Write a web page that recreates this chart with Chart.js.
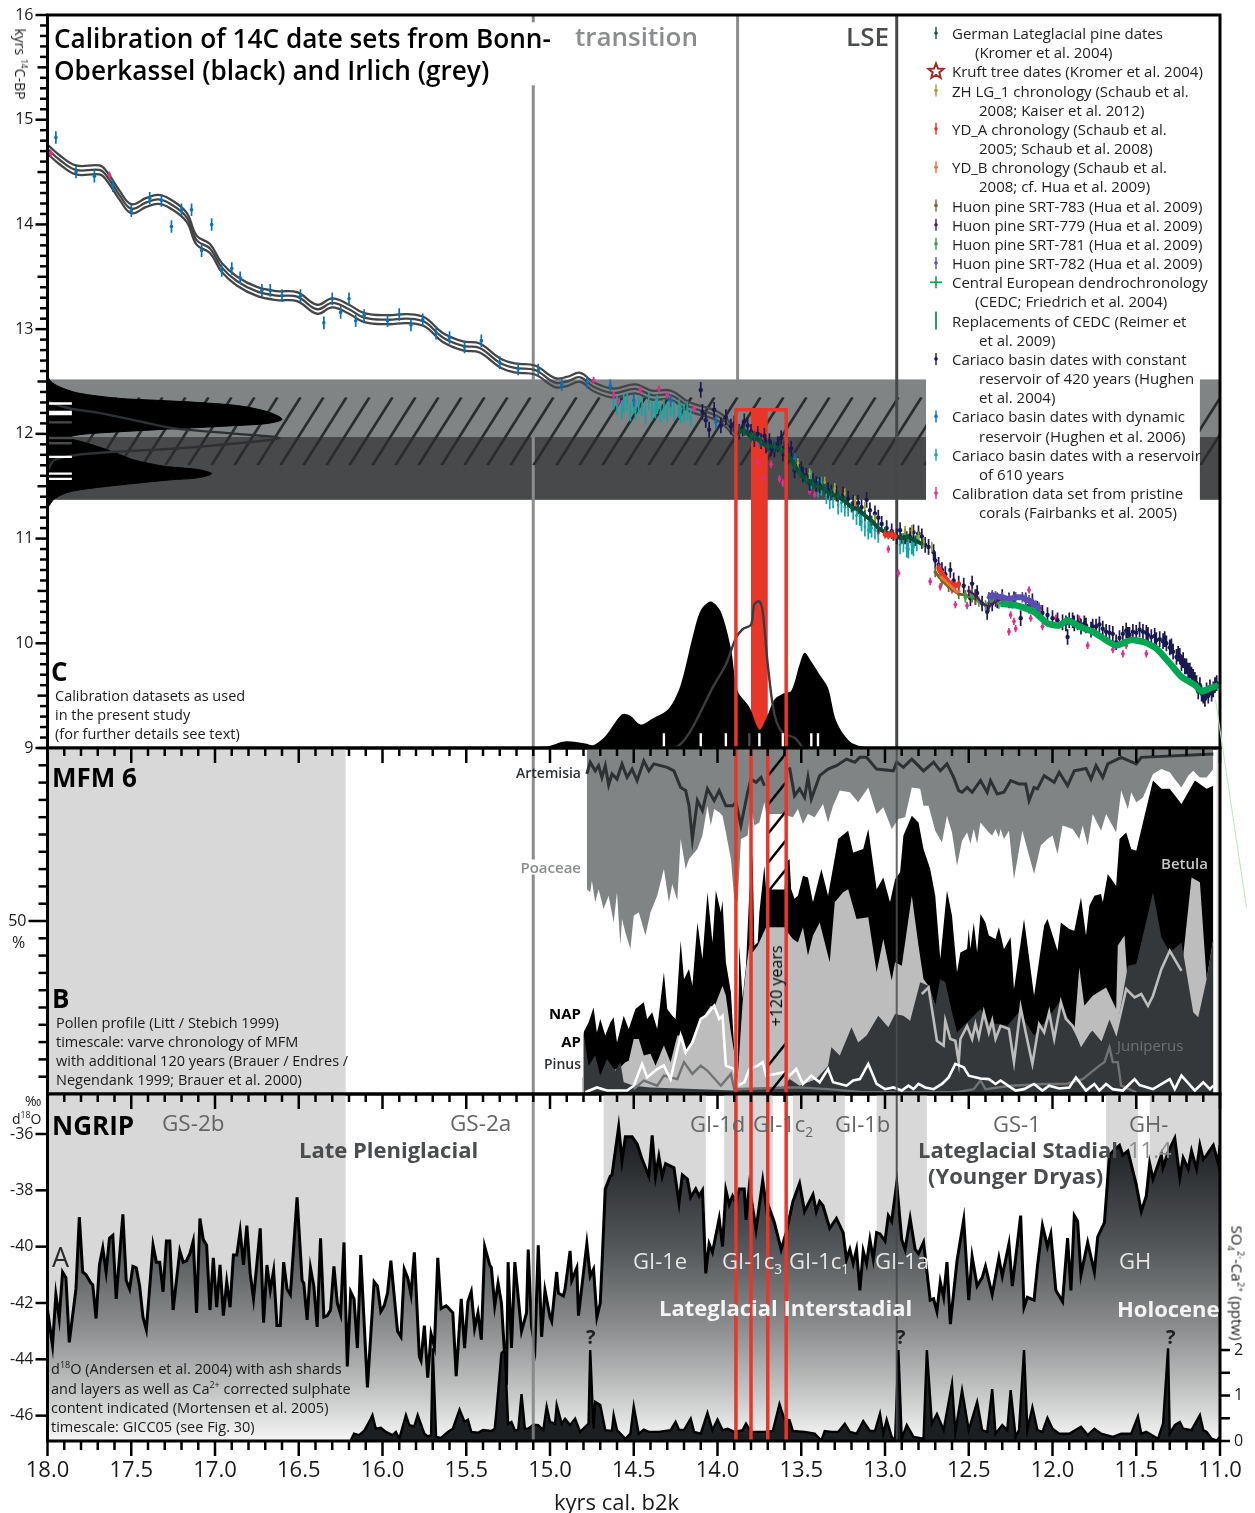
<!DOCTYPE html>
<html>
<head>
<meta charset="utf-8">
<title>Calibration of 14C date sets</title>
<script src="https://cdn.jsdelivr.net/npm/chart.js@4/dist/chart.umd.min.js"></script>
<style>
  html, body { margin: 0; padding: 0; background: #fff; }
  #page { position: relative; width: 1255px; height: 1513px; overflow: hidden; font-family: "Open Sans", "Noto Sans", sans-serif; color: #1a1a1a; }
  canvas { position: absolute; left: 0; }
  .note { position: absolute; white-space: nowrap; line-height: 1; }
  .note sup, .note sub { font-size: 62%; line-height: 0; }
  #strayLine { position: absolute; left: 1215px; top: 700px; width: 1px; height: 210px; background: #b8e6c4; transform-origin: 0 0; transform: rotate(-8.5deg); }
</style>
</head>
<body>
<div id="page">
  <canvas id="calChart" width="1255" height="760" style="top:0"></canvas>
  <canvas id="pollenChart" width="1255" height="362" style="top:740px"></canvas>
  <canvas id="ngripChart" width="1255" height="427" style="top:1086px"></canvas>
  <div id="strayLine"></div>
</div>
<script>
// all series are [age kyrs b2k, value]

// ---- panel C: radiocarbon calibration ----
const calCurve = [[18,14.72],[17.93,14.62],[17.83,14.52],[17.69,14.52],[17.65,14.47],[17.57,14.28],[17.5,14.15],[17.41,14.21],[17.34,14.24],[17.27,14.2],[17.17,14.07],[17.11,13.85],[17.03,13.77],[16.96,13.59],[16.87,13.46],[16.75,13.36],[16.63,13.32],[16.51,13.31],[16.39,13.19],[16.3,13.25],[16.2,13.19],[16.11,13.11],[15.97,13.09],[15.85,13.1],[15.75,13.07],[15.64,12.92],[15.52,12.84],[15.42,12.82],[15.3,12.68],[15.21,12.63],[15.09,12.61],[14.97,12.49],[14.9,12.5],[14.82,12.54],[14.74,12.45],[14.62,12.39],[14.49,12.43],[14.39,12.37],[14.28,12.37],[14.17,12.26],[13.99,12.16],[13.89,12]];
const calOffset = 0.043;

const cariacoDynamic = [[17.95,14.83],[17.83,14.5],[17.72,14.46],[17.61,14.37],[17.5,14.13],[17.39,14.25],[17.32,14.23],[17.2,14.14],[17.14,14.14],[17.26,13.98],[17.02,14],[17.08,13.75],[16.96,13.56],[16.9,13.58],[16.85,13.49],[16.72,13.37],[16.67,13.37],[16.6,13.32],[16.49,13.32],[16.35,13.06],[16.3,13.29],[16.25,13.16],[16.2,13.29],[16.16,13.08],[16.11,13.13],[15.97,13.08],[15.9,13.14],[15.83,13.04],[15.76,13.09],[15.68,12.96],[15.6,12.92],[15.51,12.83],[15.41,12.89],[15.3,12.68],[15.19,12.62],[15.07,12.61],[14.93,12.47],[14.78,12.49],[14.64,12.46],[14.5,12.32],[14.28,12.32],[14.01,12.11],[13.75,11.94],[13.54,11.76]];

const corals = [[17.98,14.68],[17.63,14.47],[14.74,12.51],[14.62,12.37],[14.59,12.31],[14.46,12.42],[14.35,12.43],[14.3,12.37],[14.14,12.24],[13.76,11.73],[13.73,11.58],[13.68,11.71],[13.63,11.57],[13.61,11.53],[13.45,11.45],[13.42,11.42],[13.17,11.32],[13.04,11.07],[12.98,10.9],[12.92,10.67],[12.73,10.59],[12.67,10.54],[12.6,10.51],[12.58,10.37],[12.51,10.36],[12.26,10.11],[12.22,10.14],[12.23,10.21],[12.25,10.27],[12.14,10.51],[12.13,10.24],[12.07,10.33],[12.06,10.16],[11.98,10.24],[11.84,10.23],[11.79,9.98],[11.64,9.94],[11.58,9.9],[11.56,9.98],[11.44,9.9]];

const cariaco610 = [[14.62,12.32],[14.6,12.27],[14.57,12.23],[14.56,12.29],[14.54,12.31],[14.52,12.21],[14.5,12.29],[14.49,12.22],[14.47,12.28],[14.45,12.26],[14.43,12.18],[14.41,12.31],[14.39,12.22],[14.37,12.24],[14.36,12.28],[14.34,12.2],[14.32,12.24],[14.3,12.2],[14.28,12.26],[14.26,12.22],[14.23,12.24],[14.22,12.19],[14.2,12.2],[14.18,12.22],[14.16,12.16],[13.44,11.56],[13.4,11.48],[13.38,11.5],[13.35,11.42],[13.33,11.37],[13.31,11.38],[13.28,11.32],[13.26,11.34],[13.24,11.3],[13.22,11.3],[13.19,11.27],[13.17,11.22],[13.15,11.21],[13.14,11.16],[13.12,11.11],[13.1,11.08],[13.09,11.14],[13.08,11.1],[13.06,11.08],[13.04,11.05],[12.91,10.94],[12.89,10.96],[12.87,10.91],[12.86,10.9],[12.84,10.94],[12.83,10.92],[12.81,10.97]];

const cariaco420 = [[14.1,12.42],[14.09,12.21],[14.07,12.13],[14.05,12.04],[14.02,12.23],[13.98,12.08],[13.95,12.16],[13.92,12.07],[13.9,12.1],[13.87,12.02],[13.85,12.05],[13.84,12.12],[13.82,12.08],[13.8,12.02],[13.78,11.95],[13.76,12],[13.74,11.93],[13.72,11.98],[13.71,11.89],[13.69,11.93],[13.68,11.86],[13.66,11.85],[13.64,11.9],[13.62,11.96],[13.61,11.81],[13.6,11.86],[13.58,11.83],[13.56,11.86],[13.54,11.65],[13.52,11.7],[13.5,11.66],[13.49,11.61],[13.47,11.6],[13.45,11.53],[13.43,11.55],[13.41,11.52],[13.39,11.51],[13.36,11.5],[13.34,11.46],[13.32,11.44],[13.29,11.43],[13.25,11.42],[13.22,11.38],[13.19,11.34],[13.16,11.34],[13.14,11.3],[13.11,11.37],[13.09,11.27],[13.06,11.24],[13.04,11.2],[13.02,11.14],[12.99,11.1],[12.96,11.07],[12.93,11.02],[12.91,11.08],[12.88,11.02],[12.85,11.03],[12.83,11.06],[12.8,11.05],[12.78,11.02],[12.76,10.94],[12.74,10.92],[12.71,10.87],[12.7,10.79],[12.68,10.75],[12.66,10.7],[12.64,10.66],[12.61,10.7],[12.59,10.6],[12.56,10.57],[12.53,10.55],[12.48,10.57],[12.49,10.43],[12.46,10.44],[12.45,10.48],[12.42,10.38],[12.39,10.3],[12.36,10.38],[12.33,10.41],[12.3,10.44],[12.26,10.41],[12.23,10.42],[12.19,10.24],[12.16,10.41],[12.14,10.36],[12.12,10.4],[12.09,10.33],[12.06,10.29],[12.03,10.27],[12,10.24],[11.97,10.22],[11.94,10.2],[11.92,10.19],[11.91,10.06],[11.9,10.22],[11.88,10.22],[11.87,10.19],[11.85,10.2],[11.83,10.16],[11.81,10.19],[11.8,10.17],[11.77,10.13],[11.76,10.16],[11.74,10.16],[11.72,10.18],[11.7,10.14],[11.68,10.11],[11.66,10.1],[11.64,10.09],[11.62,10.01],[11.6,10.05],[11.58,10.09],[11.56,10.12],[11.55,10.08],[11.54,10.08],[11.52,10.11],[11.5,10.1],[11.48,10.13],[11.46,10.11],[11.44,10.1],[11.43,10.08],[11.41,10.06],[11.39,10.07],[11.38,10.03],[11.36,10.04],[11.34,10.02],[11.33,10.04],[11.32,10],[11.3,9.96],[11.29,9.97],[11.28,9.92],[11.26,9.87],[11.25,9.9],[11.24,9.88],[11.23,9.81],[11.22,9.84],[11.21,9.78],[11.2,9.78],[11.19,9.74],[11.18,9.74],[11.17,9.7],[11.16,9.68],[11.15,9.65],[11.14,9.62],[11.13,9.54],[11.12,9.6],[11.11,9.52],[11.1,9.5],[11.09,9.47],[11.08,9.55],[11.07,9.5],[11.06,9.58],[11.05,9.52],[11.04,9.56],[11.03,9.6],[11.02,9.62]];

const germanPine = [[13.87,12.03],[13.84,12.03],[13.8,11.97],[13.78,11.98],[13.74,11.92],[13.7,11.88],[13.66,11.88],[13.62,11.85],[13.58,11.8],[13.54,11.7],[13.51,11.63],[13.47,11.56],[13.43,11.52],[13.4,11.5],[13.36,11.47],[13.32,11.42],[13.28,11.4],[13.24,11.36],[13.2,11.3],[13.16,11.28],[13.12,11.22],[13.08,11.17],[13.04,11.1],[13,11.06],[12.95,11.03],[12.9,11],[12.87,11.02],[12.82,10.98],[12.78,10.95]];
const zhLg1 = [[13.52,11.72],[13.45,11.62],[13.36,11.54],[13.3,11.48],[13.24,11.43],[13.18,11.36],[13.12,11.3],[13.06,11.18],[12.88,11.07],[12.84,11.08],[12.8,11.02],[12.77,10.96],[12.72,10.92]];
const ydA = [[13,11.04],[12.98,11.03],[12.96,11.04],[12.94,11.02],[12.68,10.72],[12.66,10.66],[12.64,10.62],[12.62,10.58],[12.6,10.56],[12.58,10.55],[12.56,10.56]];
const ydB = [[12.67,10.64],[12.63,10.58],[12.59,10.52],[12.57,10.49],[12.55,10.5]];
const huon783 = [[12.7,10.68],[12.66,10.6],[12.62,10.54],[12.56,10.47],[12.52,10.46],[12.48,10.44],[12.46,10.42]];
const huon779 = [[12.5,10.5],[12.46,10.46],[12.42,10.38],[12.38,10.35],[12.34,10.4],[12.3,10.42]];
const huon781 = [[12.52,10.44],[12.48,10.47],[12.44,10.4],[12.4,10.36],[12.36,10.42],[12.32,10.38],[12.28,10.4],[12.24,10.38]];
const huon782 = [[12.38,10.44],[12.36,10.46],[12.34,10.45],[12.3,10.44],[12.26,10.42],[12.22,10.44],[12.18,10.44],[12.16,10.42],[12.14,10.41],[12.12,10.38],[12.1,10.36],[12.08,10.34]];
const cedc = [[12.31,10.38],[12.21,10.36],[12.11,10.3],[12.03,10.19],[11.96,10.17],[11.91,10.22],[11.84,10.16],[11.76,10.11],[11.68,10.03],[11.62,9.98],[11.53,10.03],[11.45,10.01],[11.38,9.95],[11.3,9.81],[11.23,9.68],[11.15,9.6],[11.11,9.54],[11.06,9.57],[11.01,9.6]];

// probability curves: [age, density] along the bottom, [density, 14C] along the left
const ageDensityBlack = [[15.2,0],[15.17,0.005],[15.02,0.01],[14.91,0.045],[14.79,0.03],[14.74,0.02],[14.67,0.08],[14.57,0.23],[14.52,0.22],[14.46,0.16],[14.39,0.2],[14.29,0.27],[14.22,0.43],[14.15,0.75],[14.1,0.94],[14.04,1],[13.98,0.93],[13.92,0.68],[13.88,0.39],[13.81,0.28],[13.75,0.125],[13.71,0.2],[13.66,0.33],[13.61,0.37],[13.56,0.39],[13.51,0.57],[13.48,0.65],[13.44,0.59],[13.39,0.5],[13.34,0.41],[13.29,0.18],[13.21,0.045],[13.11,0.005],[12.94,0]];
const ageDensityGrey = [[14.34,0.005],[14.24,0.01],[14.17,0.1],[14.09,0.27],[14.03,0.41],[13.95,0.57],[13.89,0.75],[13.85,0.81],[13.8,0.84],[13.78,0.98],[13.75,1],[13.73,0.93],[13.7,0.57],[13.66,0.23],[13.61,0.1],[13.54,0.07],[13.49,0]];
const c14DensityBlack = [[0,11.29],[0.03,11.38],[0.1,11.45],[0.3,11.51],[0.52,11.56],[0.64,11.58],[0.7,11.62],[0.64,11.66],[0.5,11.69],[0.37,11.75],[0.3,11.81],[0.2,11.89],[0.12,11.94],[0.08,11.96],[0.13,11.99],[0.23,12.01],[0.47,12.04],[0.64,12.06],[0.81,12.08],[0.94,12.1],[1,12.14],[0.94,12.21],[0.81,12.27],[0.64,12.3],[0.47,12.32],[0.3,12.34],[0.13,12.39],[0.05,12.45],[0.01,12.51],[0,12.59]];
const c14DensityGrey = [[0,11.65],[0.03,11.75],[0.13,11.8],[0.3,11.83],[0.55,11.86],[0.81,11.91],[0.99,11.96],[0.81,12],[0.55,12.05],[0.39,12.12],[0.22,12.2],[0.1,12.24],[0.02,12.29],[0,12.32]];
const dateAgesBlack = [14.32,14.1,13.95,13.75,13.61,13.44,13.4];
const dateAgesGrey = [13.81];
const dateC14White = [12.29,12.21,12.19,11.78,11.62,11.57];
const dateC14Grey = [12.11,11.96,11.91];

// ---- panel B: MFM 6 pollen, cumulative percent ----
const poaceaeEdge = [[14.78,59.2],[14.76,58.3],[14.75,61.7],[14.73,55.4],[14.71,59.2],[14.68,53.5],[14.65,57.3],[14.62,49.6],[14.6,58.3],[14.58,42.9],[14.57,50.6],[14.55,46.7],[14.52,41.9],[14.5,51.5],[14.47,52.5],[14.43,45.8],[14.4,52.5],[14.36,57.3],[14.32,65],[14.29,55.4],[14.27,60.7],[14.24,55.9],[14.22,73.7],[14.19,65],[14.17,67.9],[14.12,70.8],[14.09,74.7],[14.06,83.3],[14.04,77.6],[14.02,82.4],[13.99,81.4],[13.97,80.4],[13.95,75.6],[13.92,67.9],[13.9,56.4],[13.88,55.4],[13.86,73.7],[13.82,74.7],[13.8,83.3],[13.78,77.6],[13.75,78.5],[13.72,84.3],[13.71,80.9],[13.6,80.9],[13.58,80.4],[13.55,80],[13.52,82.4],[13.49,78],[13.46,80.9],[13.42,80],[13.37,83.8],[13.34,78.5],[13.31,83.3],[13.27,87.7],[13.21,87.2],[13.16,84.3],[13.1,88.6],[13.05,80.9],[13.01,82.9],[12.96,76.6],[12.92,79.5],[12.88,80],[12.84,88.6],[12.79,88.2],[12.77,83.3],[12.74,83.3],[12.7,76.1],[12.66,72.7],[12.63,80.4],[12.6,75.6],[12.57,66],[12.54,73.2],[12.51,75.6],[12.49,72.3],[12.47,76.6],[12.45,72.3],[12.43,78.5],[12.38,75.6],[12.36,74.7],[12.34,76.6],[12.32,74.2],[12.31,76.6],[12.29,73.7],[12.26,76.1],[12.23,62.1],[12.18,76.1],[12.11,63.6],[12.07,71.8],[12.03,73.7],[12,74.7],[11.97,69.4],[11.94,77.6],[11.88,76.6],[11.84,73.7],[11.82,77.6],[11.79,71.8],[11.76,80.9],[11.71,76.1],[11.68,80.9],[11.62,75.6],[11.59,87.7],[11.55,82.4],[11.53,87.2],[11.5,84.3],[11.46,85.7],[11.4,92.5],[11.35,93.9],[11.3,93],[11.27,91],[11.23,88.6],[11.19,92],[11.16,93.4],[11.12,91.5],[11.08,91.5],[11.04,93.9]];
const napTop = [[14.8,17.8],[14.77,20.7],[14.74,25],[14.72,17.8],[14.7,21.7],[14.67,16.9],[14.64,20.7],[14.62,22.2],[14.6,14.9],[14.56,22.6],[14.53,18.8],[14.49,24.6],[14.44,26.5],[14.42,21.7],[14.39,23.6],[14.36,18.8],[14.32,35.2],[14.3,24.6],[14.27,22.6],[14.25,21.7],[14.22,44.3],[14.2,33.2],[14.17,36.1],[14.15,31.3],[14.12,49.6],[14.09,39],[14.06,58.3],[14.03,43.8],[14.01,58.8],[13.98,52.5],[13.97,55.9],[13.95,38.1],[13.92,29.4],[13.9,13],[13.88,4.3],[13.87,42.9],[13.85,27.5],[13.83,37.1],[13.81,58.3],[13.79,68.9],[13.78,42.9],[13.76,43.8],[13.75,52.5],[13.72,66],[13.71,59.1],[13.6,59.1],[13.59,67],[13.57,67.9],[13.56,59.2],[13.54,56.4],[13.52,57.3],[13.49,63.1],[13.46,62.6],[13.43,55.4],[13.38,65],[13.34,57.3],[13.28,73.7],[13.22,76.1],[13.19,69.8],[13.13,70.8],[13.1,76.6],[13.05,59.2],[13.01,62.6],[12.97,55.4],[12.94,62.1],[12.91,64.1],[12.89,74.7],[12.84,80.4],[12.8,78.5],[12.77,70.8],[12.73,65],[12.7,57.3],[12.67,39],[12.63,58.8],[12.6,51.5],[12.57,35.2],[12.55,40.9],[12.51,41.9],[12.5,47.7],[12.49,41.9],[12.47,49.6],[12.45,40.9],[12.43,52],[12.4,49.6],[12.38,45.8],[12.34,44.8],[12.32,48.2],[12.29,41.9],[12.25,45.3],[12.23,30.3],[12.17,50.6],[12.11,28.4],[12.05,48.7],[12.03,50.6],[11.97,41.4],[11.95,49.6],[11.9,47.7],[11.87,47.2],[11.83,56.8],[11.8,45.8],[11.78,54.4],[11.75,57.3],[11.71,57.8],[11.7,55.4],[11.67,63.6],[11.62,60.2],[11.6,73.7],[11.56,75.6],[11.53,70.8],[11.5,70.3],[11.46,78.5],[11.4,90.6],[11.35,88.2],[11.3,88.2],[11.23,83.8],[11.15,90.6],[11.08,88.2],[11.04,89.1]];
const apTop = [[14.81,4.8],[14.75,5.3],[14.7,5.3],[14.58,7.7],[14.55,9.2],[14.53,9.6],[14.5,15.9],[14.47,15.9],[14.44,11.1],[14.4,11.6],[14.37,8.2],[14.32,14],[14.28,9.2],[14.24,16.9],[14.21,16.9],[14.18,12],[14.15,15.9],[14.12,19.7],[14.08,22.6],[14.04,25.5],[14.02,25],[13.97,31.3],[13.95,28.4],[13.92,17.8],[13.9,12],[13.88,4.3],[13.85,26.5],[13.83,36.1],[13.81,42.9],[13.79,40.9],[13.76,42.9],[13.71,48.2],[13.6,48.2],[13.58,46.7],[13.55,44.8],[13.52,43.8],[13.49,48.2],[13.46,40],[13.43,45.8],[13.39,49.6],[13.33,38.1],[13.3,55.4],[13.25,58.3],[13.22,59.2],[13.17,50.6],[13.1,51.1],[13.05,35.2],[13.01,44.8],[12.96,32.8],[12.94,38.1],[12.9,37.1],[12.84,57.3],[12.8,42.9],[12.77,33.2],[12.74,31.3],[12.7,25.5],[12.67,22.6],[12.6,15],[12,15],[11.87,17.8],[11.84,36.6],[11.81,25.5],[11.76,28.4],[11.68,30.8],[11.62,24.6],[11.61,42.9],[11.57,45.8],[11.55,31.3],[11.5,37.6],[11.4,20],[11.23,35.2],[11.17,62.6],[11.12,61.2],[11.08,33.2],[11.04,44.8]];
const betulaTop = [[14.8,17.8],[14.77,8.2],[14.73,11.1],[14.7,5.3],[14.66,10.1],[14.61,6.7],[14.58,9.2],[14.56,3.4],[14.5,2.4],[14.4,1.9],[14.1,1.4],[13.9,1],[13.61,1.9],[13.57,4.3],[13.51,2.4],[13.41,4.3],[13.34,8.2],[13.32,13.5],[13.27,11.1],[13.2,19.3],[13.16,14.9],[13.11,16.9],[13.04,22.6],[12.98,19.3],[12.94,23.1],[12.89,22.6],[12.85,21.2],[12.79,32.3],[12.74,31.3],[12.7,25.5],[12.67,33.2],[12.64,32.3],[12.6,23.6],[12.57,17.8],[12.47,22.6],[12.43,24.6],[12.38,20.7],[12.27,19.7],[12.2,23.6],[12.11,16.9],[12.03,21.7],[11.96,26.5],[11.88,19.7],[11.83,13.5],[11.76,18.8],[11.71,15.9],[11.66,22.6],[11.62,17.8],[11.55,37.1],[11.5,37.6],[11.4,58.3],[11.35,45.3],[11.3,40.9],[11.23,43.8],[11.16,23.6],[11.13,22.2],[11.08,33.2],[11.04,44.8]];
const betulaLine = [[12.78,28.9],[12.74,30.8],[12.69,15.4],[12.65,14],[12.64,21.2],[12.61,15.9],[12.58,15.4],[12.56,9.2],[12.55,15.9],[12.51,19.7],[12.48,15.9],[12.46,20.2],[12.44,16.4],[12.41,23.6],[12.38,17.8],[12.36,21.2],[12.34,15.9],[12.31,19.7],[12.26,18.8],[12.23,9.2],[12.19,25],[12.16,17.8],[12.12,8.7],[12.08,20.2],[12.05,17.8],[12.02,23.6],[11.99,15.9],[11.95,26.5],[11.92,21.7],[11.88,19.7],[11.84,15.9],[11.76,18.8],[11.71,15.9],[11.66,22.6],[11.62,17.8],[11.56,30.3],[11.51,27.9],[11.47,28.9],[11.43,25.5],[11.4,28.4],[11.35,36.1],[11.3,41.4],[11.23,35.6]];
const pinusLine = [[14.79,0.5],[14.72,1.9],[14.66,1],[14.54,1],[14.5,2.4],[14.45,8.7],[14.42,4.8],[14.36,7.2],[14.32,8.2],[14.28,4.3],[14.22,16.9],[14.19,12],[14.15,14.9],[14.1,21.7],[14.07,22.6],[14.02,25.5],[13.99,21.7],[13.97,22.6],[13.95,8.2],[13.9,7.2],[13.88,2.4],[13.84,3.4],[13.81,7.2],[13.76,8.2],[13.73,9.2],[13.71,5.3],[13.6,6.3],[13.57,5.3],[13.53,7.2],[13.49,2.9],[13.44,5.3],[13.39,3.4],[13.34,7.2],[13.31,3.4],[13.23,2.4],[13.19,3.9],[13.15,4.3],[13.1,8.7],[13.05,2.9],[13,1.4],[12.95,1.9],[12.9,1],[12.86,2.4],[12.83,1.4],[12.8,2.9],[12.76,1.9],[12.71,1.4],[12.66,2.9],[12.62,4.8],[12.58,8.7],[12.53,7.7],[12.5,5.3],[12.43,4.5],[12.38,4.3],[12.34,2.9],[12.31,3.9],[12.25,1.9],[12.22,1],[12.17,1.4],[12.11,2.9],[12.06,1],[12.02,2.4],[11.96,1.6],[11.9,1.9],[11.86,4.8],[11.8,1],[11.75,2.9],[11.72,1],[11.68,2.9],[11.64,1.4],[11.58,1],[11.51,4.3],[11.48,2.6],[11.4,1.4],[11.3,4.3],[11.27,1.4],[11.23,5.3],[11.15,1],[11.1,3.4],[11.06,1.4],[11.04,2.4]];
const juniperusLine = [[14.5,1.4],[14.44,3.9],[14.36,2.4],[14.32,5.3],[14.24,4.3],[14.2,9.2],[14.15,5.8],[14.1,8.2],[14.06,6.7],[13.98,2.4],[13.92,5.8],[13.9,1.4],[13.59,1.9],[13.51,1.9],[13.34,1.4],[13.13,0.5],[12.57,0.5],[12.47,1.4],[12.43,3.9],[12.4,1.4],[12.25,2.4],[12.05,2.9],[11.92,2.9],[11.82,4.3],[11.72,8.2],[11.69,9.2],[11.66,13.5],[11.64,9.2],[11.61,9.2],[11.59,2.4],[11.5,0.5]];
const artemisiaLine = [[14.78,92.5],[14.76,95.9],[14.73,93.4],[14.71,94.9],[14.69,91.5],[14.67,94.9],[14.65,89.3],[14.63,92.5],[14.6,91],[14.57,95.4],[14.54,91.5],[14.51,93.9],[14.48,90.6],[14.44,96.3],[14.41,93.4],[14.38,95.4],[14.34,94.9],[14.3,94.4],[14.26,93.4],[14.22,88.6],[14.19,87.7],[14.17,83.3],[14.15,73.7],[14.12,84.8],[14.09,81.9],[14.06,88.2],[14.02,84.8],[13.99,87.7],[13.95,83.3],[13.91,83.3],[13.89,84.3],[13.86,77.6],[13.82,87.2],[13.8,91],[13.77,90.1],[13.74,91.5],[13.72,89.1],[13.66,NaN],[13.57,94.4],[13.54,86.2],[13.51,88.2],[13.48,85.7],[13.46,91.5],[13.44,85.3],[13.39,92],[13.34,93.9],[13.29,94.9],[13.23,96.8],[13.18,95.9],[13.15,97.3],[13.11,97.3],[13.05,93.9],[12.95,93.4],[12.93,95.9],[12.89,94.4],[12.84,96.8],[12.77,93.4],[12.71,95.9],[12.67,93.4],[12.63,95.4],[12.59,91.5],[12.56,87.7],[12.54,87.2],[12.51,88.6],[12.48,87.2],[12.43,90.6],[12.39,87.2],[12.37,90.6],[12.33,86.7],[12.29,87.2],[12.25,90.6],[12.2,89.6],[12.16,89.6],[12.14,84.8],[12.11,88.6],[12.09,88.2],[12.05,92],[11.99,90.1],[11.96,93],[11.91,89.1],[11.87,93.4],[11.8,94.1],[11.77,91],[11.74,94.9],[11.7,91.5],[11.67,95.4],[11.59,97.3],[11.5,95.4],[11.47,97.3],[11.04,98.3]];

// ---- panel A: NGRIP ----
const d18O = [[18,-42.25],[17.97,-43.5],[17.95,-41.7],[17.93,-42.55],[17.91,-40.9],[17.89,-41.1],[17.87,-43.4],[17.83,-41.5],[17.81,-38.95],[17.79,-40.9],[17.77,-41],[17.74,-41.3],[17.73,-41.35],[17.71,-42.55],[17.69,-40.65],[17.67,-40.05],[17.65,-40.9],[17.63,-39.7],[17.61,-39.6],[17.59,-41.85],[17.55,-38.85],[17.53,-41.2],[17.51,-41.5],[17.49,-40.7],[17.47,-40.75],[17.45,-41.4],[17.43,-42.5],[17.41,-42.95],[17.37,-39.95],[17.35,-40.55],[17.33,-40.55],[17.31,-41.6],[17.29,-39.8],[17.27,-39.8],[17.25,-42.25],[17.21,-40.15],[17.19,-40.55],[17.17,-40.5],[17.15,-40.25],[17.13,-39.8],[17.11,-42.35],[17.09,-39],[17.07,-39.75],[17.05,-39.95],[17.03,-42.25],[17.01,-40.4],[16.99,-42.15],[16.97,-40.65],[16.95,-42.45],[16.93,-41.25],[16.91,-42.15],[16.89,-40.3],[16.87,-40.3],[16.85,-39.45],[16.83,-40.65],[16.81,-39.25],[16.79,-40.95],[16.77,-41.85],[16.73,-39.35],[16.71,-42.7],[16.69,-40.65],[16.67,-41.55],[16.65,-40.85],[16.63,-42.8],[16.61,-42.8],[16.59,-40.55],[16.57,-41.5],[16.55,-41.7],[16.51,-38.25],[16.48,-41.2],[16.47,-41.3],[16.45,-42.6],[16.43,-40.75],[16.41,-41.4],[16.39,-42.85],[16.37,-39.7],[16.35,-42.5],[16.33,-42.45],[16.31,-42.25],[16.29,-40.7],[16.27,-42],[16.25,-42.4],[16.23,-39.85],[16.21,-44.25],[16.19,-41.6],[16.17,-41.85],[16.15,-43.6],[16.13,-40.3],[16.09,-45],[16.05,-41.25],[16.03,-41.4],[16.01,-42.3],[15.99,-42.1],[15.97,-41.65],[15.95,-40.5],[15.91,-43],[15.89,-43.2],[15.87,-40.8],[15.85,-41.1],[15.83,-41.7],[15.81,-40.2],[15.78,-43.9],[15.77,-44.05],[15.75,-42.8],[15.73,-44.65],[15.71,-43.1],[15.69,-43.55],[15.67,-40.4],[15.65,-42.2],[15.62,-42.1],[15.61,-42.15],[15.58,-42.35],[15.56,-44.6],[15.53,-41.85],[15.51,-43.6],[15.49,-41.95],[15.47,-41.6],[15.45,-42.9],[15.43,-42.35],[15.41,-43.3],[15.39,-40],[15.36,-40.65],[15.35,-40.75],[15.33,-42.1],[15.31,-41.3],[15.29,-42],[15.26,-44.9],[15.25,-40.55],[15.23,-43.6],[15.21,-40.55],[15.17,-43],[15.14,-42.35],[15.13,-40.1],[15.11,-42.85],[15.09,-43.55],[15.07,-39.95],[15.05,-43.2],[15.03,-41.55],[15,-42.5],[14.99,-42.65],[14.96,-40.9],[14.95,-41.65],[14.92,-41.75],[14.91,-41.5],[14.88,-40.15],[14.87,-41.2],[14.84,-40.75],[14.83,-42.45],[14.78,-39.9],[14.76,-41.05],[14.74,-40.8],[14.72,-42.5],[14.7,-42],[14.69,-40.7],[14.67,-37.95],[14.64,-37.5],[14.63,-37.45],[14.59,-35.75],[14.57,-36.95],[14.55,-36.1],[14.51,-36.1],[14.48,-36.35],[14.45,-36.9],[14.43,-37.2],[14.41,-37.5],[14.39,-36.05],[14.37,-37.5],[14.35,-36.8],[14.33,-37.5],[14.31,-37.05],[14.26,-37.2],[14.23,-38.45],[14.21,-37.45],[14.18,-37.6],[14.16,-38.25],[14.13,-37.95],[14.11,-38.2],[14.09,-38],[14.07,-40.95],[14.05,-39.9],[14.03,-40.2],[13.99,-39],[13.97,-40],[13.95,-38],[13.93,-38.5],[13.91,-38.2],[13.89,-38.45],[13.87,-37.95],[13.84,-37.95],[13.83,-39.05],[13.81,-37.85],[13.77,-39.4],[13.73,-37.65],[13.7,-38.95],[13.69,-38.65],[13.66,-39.15],[13.62,-40.1],[13.59,-39.5],[13.55,-38.4],[13.51,-37.75],[13.48,-38.75],[13.43,-38.15],[13.41,-38.75],[13.39,-38.4],[13.37,-38.55],[13.33,-39.35],[13.29,-39],[13.25,-39.5],[13.23,-40.45],[13.21,-40.1],[13.19,-40.6],[13.17,-40.1],[13.15,-41.55],[13.13,-40.15],[13.11,-40.6],[13.09,-39.75],[13.07,-40.45],[13.05,-39.5],[13.03,-39.55],[13,-39.8],[12.98,-38.9],[12.96,-39.1],[12.93,-37.75],[12.9,-39.75],[12.88,-40.1],[12.85,-39],[12.82,-40.1],[12.8,-40.25],[12.77,-39.85],[12.73,-41.9],[12.71,-41.85],[12.69,-42.3],[12.67,-41.25],[12.65,-41.8],[12.63,-40.55],[12.61,-42.75],[12.57,-40.5],[12.53,-39.05],[12.5,-41.9],[12.48,-40.35],[12.45,-41.4],[12.42,-41.1],[12.4,-40.7],[12.36,-41.7],[12.32,-40.4],[12.3,-41.05],[12.26,-39.9],[12.24,-41.4],[12.19,-38.9],[12.17,-42.15],[12.15,-41.8],[12.11,-41.9],[12.09,-40.7],[12.06,-39.25],[12.03,-40],[12.01,-39.55],[11.98,-41.55],[11.94,-41.95],[11.91,-39.7],[11.89,-41.55],[11.87,-38.9],[11.85,-39.1],[11.83,-41],[11.79,-39.85],[11.75,-40.9],[11.73,-39.65],[11.69,-39.15],[11.66,-36.75],[11.63,-36.55],[11.6,-36.4],[11.58,-36.75],[11.55,-36.6],[11.5,-37.8],[11.47,-38.75],[11.44,-38.2],[11.42,-37.05],[11.4,-37.6],[11.35,-36.75],[11.34,-37.2],[11.31,-36.65],[11.27,-36.15],[11.24,-37.55],[11.22,-36.85],[11.19,-37.25],[11.17,-36.6],[11.14,-37.25],[11.12,-36.4],[11.1,-36.9],[11.08,-36.75],[11.04,-36.4],[11.01,-37.05],[11,-36.4]];
const sulphate = [[16.19,0.01],[16.17,0.16],[16.14,0.13],[16.11,0.22],[16.07,0.49],[16.06,0.57],[16.04,0.27],[16.01,0.29],[15.98,0.2],[15.94,0.13],[15.92,0.2],[15.9,0.05],[15.86,0.57],[15.84,0.35],[15.81,0.32],[15.79,0.57],[15.75,0.16],[15.73,0.1],[15.71,0.13],[15.7,2.04],[15.68,0.09],[15.65,0.07],[15.61,0.2],[15.58,0.27],[15.54,0.69],[15.51,0.42],[15.49,0.47],[15.47,0.2],[15.43,0.18],[15.4,0.24],[15.35,0.22],[15.33,0.27],[15.32,0.64],[15.29,1.93],[15.27,2],[15.25,0.38],[15.23,0.42],[15.21,0.24],[15.19,0.24],[15.17,1.03],[15.15,0.27],[15.13,0.27],[15.1,0.36],[15.07,0.35],[15.04,0.24],[15.02,0.76],[15,0.42],[14.97,0.38],[14.96,0.79],[14.93,0.38],[14.91,0.49],[14.88,0.35],[14.85,0.49],[14.82,0.2],[14.77,0.38],[14.76,2],[14.74,0.27],[14.73,0.86],[14.7,0.79],[14.67,0.24],[14.63,0.22],[14.62,0.57],[14.6,0.24],[14.55,0.05],[14.52,0.16],[14.5,0.76],[14.47,0.16],[14.44,0.25],[14.41,0.2],[14.35,0.2],[14.28,0.24],[14.25,0.42],[14.23,0.25],[14.2,0.24],[14.16,0.49],[14.14,0.2],[14.1,0.16],[14.06,0.62],[14.03,0.24],[14,0.47],[13.97,0.24],[13.94,0.27],[13.9,0.2],[13.85,0.24],[13.83,0.38],[13.8,0.2],[13.72,0.2],[13.67,0.22],[13.63,0.81],[13.6,0.47],[13.57,0.46],[13.55,0.22],[13.48,0.2],[13.42,0.16],[13.38,0.01],[13.36,0.22],[13.32,0.2],[13.28,0.2],[13.24,0.38],[13.21,0.2],[13.17,0.16],[13.13,0.44],[13.09,0.22],[13.06,0.22],[13.03,0.6],[13.01,0.16],[12.99,0.47],[12.96,0.09],[12.94,0.01],[12.92,2],[12.9,0.05],[12.87,0.35],[12.83,0.09],[12.77,0.05],[12.75,2],[12.72,0.38],[12.69,0.59],[12.65,0.24],[12.6,1.26],[12.58,0.2],[12.54,1.12],[12.5,0.24],[12.45,0.86],[12.42,0.24],[12.39,0.2],[12.36,1.14],[12.34,0.16],[12.3,0.35],[12.27,0.24],[12.25,1.12],[12.22,0.09],[12.2,0.24],[12.17,2],[12.15,0.24],[12.12,0.74],[12.09,0.24],[12.06,0.2],[12.03,0.51],[12,0.27],[11.96,0.16],[11.9,0.16],[11.83,0.31],[11.79,0.13],[11.75,0.27],[11.71,0.16],[11.64,0.09],[11.59,0.16],[11.53,0.16],[11.49,0.54],[11.47,0.16],[11.44,0.2],[11.37,0.05],[11.34,0.38],[11.31,2.04],[11.3,0.16],[11.27,0.35],[11.24,0.42],[11.22,0.27],[11.17,0.24],[11.12,0.57],[11.1,0.24],[11.08,0.2],[11.05,0.05],[11.02,0.01],[11,0.09]];

// stadial shading, [older, younger]
const stadialBands = [[18,16.22],[14.68,14.07],[13.96,13.67],[13.55,13.24],[13.05,12.75],[11.68,11.49],[11.42,11]];
const pollenBands = [[18,16.22],[11.02,11]];
const redLineAges = [13.89,13.8,13.7,13.59];

const legendKeys = [
  { lines: ["German Lateglacial pine dates", "(Kromer et al. 2004)"], indent: 975, color: "#0c5a3c" },
  { lines: ["Kruft tree dates (Kromer et al. 2004)"], star: true, color: "#a32a2a" },
  { lines: ["ZH LG_1 chronology (Schaub et al.", "2008; Kaiser et al. 2012)"], indent: 979, color: "#a3a32a" },
  { lines: ["YD_A chronology (Schaub et al.", "2005; Schaub et al. 2008)"], indent: 979, color: "#e8352a" },
  { lines: ["YD_B chronology (Schaub et al.", "2008; cf. Hua et al. 2009)"], indent: 979, color: "#f07030" },
  { lines: ["Huon pine SRT-783 (Hua et al. 2009)"], color: "#6a6a2a" },
  { lines: ["Huon pine SRT-779 (Hua et al. 2009)"], color: "#4a1a5a" },
  { lines: ["Huon pine SRT-781 (Hua et al. 2009)"], color: "#3f9a4a" },
  { lines: ["Huon pine SRT-782 (Hua et al. 2009)"], color: "#5a4fb0" },
  { lines: ["Central European dendrochronology", "(CEDC; Friedrich et al. 2004)"], indent: 975, cross: true, color: "#00a651" },
  { lines: ["Replacements of CEDC (Reimer et", "et al. 2009)"], indent: 979, tall: true, color: "#00803c" },
  { lines: ["Cariaco basin dates with constant", "reservoir of 420 years (Hughen", "et al. 2004)"], indent: 979, color: "#1a1a50" },
  { lines: ["Cariaco basin dates with dynamic", "reservoir (Hughen et al. 2006)"], indent: 979, color: "#0a71b9" },
  { lines: ["Cariaco basin dates with a reservoir", "of 610 years"], indent: 979, color: "#12a5a5" },
  { lines: ["Calibration data set from pristine", "corals (Fairbanks et al. 2005)"], indent: 979, color: "#e02d90" },
];

Chart.defaults.font.family = "'Open Sans', 'Noto Sans', sans-serif";
Chart.defaults.color = "#1a1a1a";
Chart.defaults.animation = false;

const RED = "#ea3529";
const xScaleHidden = { type: "linear", min: 11, max: 18, reverse: true, display: false };
const noGrid = { display: false, drawTicks: false };
const noBorder = { display: false };

function toPoints(list) {
  return list.map(([x, y]) => ({ x, y }));
}

function lineSet(list, color, width, extra) {
  return { type: "line", xAxisID: "x", yAxisID: "y", data: toPoints(list), borderColor: color, backgroundColor: color, borderWidth: width, pointRadius: 0, fill: false, tension: 0, ...extra };
}

function areaSet(list, color, fill, extra) {
  return lineSet(list, color, 0, { fill, ...extra });
}

function errorBars(list, err, color, width) {
  const segs = [];
  list.forEach(([t, v]) => {
    segs.push([t, v + err], [t, v - err], [t, NaN]);
  });
  return lineSet(segs, color, width || 1.7);
}

function dots(list, color, radius) {
  return { type: "line", xAxisID: "x", yAxisID: "y", data: toPoints(list), showLine: false, pointRadius: radius || 1.8, pointBackgroundColor: color, pointBorderWidth: 0, borderWidth: 0 };
}

function dated(list, err, color, radius) {
  return [errorBars(list, err, color), dots(list, color, radius)];
}

function marksAlongAge(ages, height) {
  const segs = [];
  ages.forEach((t) => segs.push([t, 0], [t, height], [t, NaN]));
  return segs;
}

function marksAlongC14(values, length) {
  const segs = [];
  values.forEach((v) => segs.push([0, v], [length, v], [0, NaN]));
  return segs;
}

function inPaintOrder(sets) {
  sets.forEach((set, i) => { set.order = sets.length - i; });
  return sets;
}

function xPx(chart, t) { return chart.scales.x.getPixelForValue(t); }

function fillBand(chart, t1, t2, color, scaleId, v1, v2) {
  const a = chart.chartArea;
  const sc = scaleId ? chart.scales[scaleId] : null;
  const top = sc ? sc.getPixelForValue(v1) : a.top;
  const bottom = sc ? sc.getPixelForValue(v2) : a.bottom;
  const x1 = xPx(chart, t1);
  chart.ctx.fillStyle = color;
  chart.ctx.fillRect(x1, top, xPx(chart, t2) - x1, bottom - top);
}

function ageLine(chart, t, color, width, yTop, yBottom) {
  const c = chart.ctx;
  const a = chart.chartArea;
  c.strokeStyle = color;
  c.lineWidth = width;
  c.beginPath();
  c.moveTo(xPx(chart, t), yTop === undefined ? a.top : yTop);
  c.lineTo(xPx(chart, t), yBottom === undefined ? a.bottom : yBottom);
  c.stroke();
}

function drawFrame(chart) {
  const a = chart.chartArea;
  chart.ctx.strokeStyle = "#000";
  chart.ctx.lineWidth = 3;
  chart.ctx.strokeRect(a.left, a.top, a.right - a.left, a.bottom - a.top);
}

function tick(c, x1, y1, x2, y2) {
  c.beginPath();
  c.moveTo(x1, y1);
  c.lineTo(x2, y2);
  c.stroke();
}

// inner ticks every 100 years along the top of a panel
function ageTicksTop(chart) {
  const c = chart.ctx;
  c.strokeStyle = "#000";
  c.lineWidth = 2.5;
  for (let i = 0; i <= 70; i++) {
    const x = xPx(chart, 11 + i / 10);
    tick(c, x, chart.chartArea.top, x, chart.chartArea.top + (i % 5 === 0 ? 15 : 8));
  }
}

function leftTicks(chart, scaleId, from, count, step, lengthOf) {
  const c = chart.ctx;
  const left = chart.chartArea.left;
  c.strokeStyle = "#000";
  c.lineWidth = 2.5;
  for (let i = 0; i <= count; i++) {
    const y = chart.scales[scaleId].getPixelForValue(from + i * step);
    tick(c, left - lengthOf(i), y, left, y);
  }
}

function hatchRange(chart, x1, x2, top, bottom, dx, gap) {
  const c = chart.ctx;
  c.save();
  c.beginPath();
  c.rect(x1, top, x2 - x1, bottom - top);
  c.clip();
  c.strokeStyle = "#2a2c2e";
  c.lineWidth = 2.6;
  for (let x = 47.5 - dx; x < x2 + dx; x += gap) {
    tick(c, x, bottom, x + dx, top);
  }
  c.restore();
}

// keep the plot area where the layout puts it, labels may overhang
function flushScale(scale) {
  scale.paddingTop = 0;
  scale.paddingBottom = 0;
  scale.paddingLeft = 0;
  scale.paddingRight = 0;
}

// fill a closed curve that is not a function of x
const closedCurve = {
  id: "closedCurve",
  beforeDatasetDraw(chart, args) {
    const set = chart.data.datasets[args.index];
    if (!set.closedFill) return;
    const c = chart.ctx;
    c.save();
    c.fillStyle = set.closedFill;
    c.beginPath();
    args.meta.dataset.path(c);
    c.closePath();
    c.fill();
    c.restore();
  },
};
Chart.register(closedCurve);

function tickFont(size) {
  return { size, family: "'Open Sans', 'Noto Sans', sans-serif" };
}

// ---- panel C ----
const bandLeftEnd = 12.755;
const bandRightStart = 11.12;

const calDeco = {
  id: "calDeco",
  beforeDatasetsDraw(chart) {
    const y = chart.scales.y;
    // vertical reference lines first, the light band hides them
    ageLine(chart, 15.1, "#8a8c8d", 3, y.getPixelForValue(15.33), y.getPixelForValue(9));
    ageLine(chart, 15.1, "#8a8c8d", 3, y.getPixelForValue(16), y.getPixelForValue(15.93));
    ageLine(chart, 13.88, "#8a8c8d", 3, y.getPixelForValue(16), y.getPixelForValue(12.23));
    [[18, bandLeftEnd], [bandRightStart, 11]].forEach(([a, b]) => {
      fillBand(chart, a, b, "#808485", "y", 12.52, 11.97);
    });
    [[18, bandLeftEnd], [bandRightStart, 11]].forEach(([a, b]) => {
      fillBand(chart, a, b, "#48494b", "y", 11.97, 11.37);
    });
    ageLine(chart, 15.1, "#8a8c8d", 3, y.getPixelForValue(11.97), y.getPixelForValue(11.37));
    hatchRange(chart, xPx(chart, 18), xPx(chart, bandLeftEnd), y.getPixelForValue(12.35), y.getPixelForValue(11.7), 43, 23);
    hatchRange(chart, xPx(chart, bandRightStart), xPx(chart, 11), y.getPixelForValue(12.35), y.getPixelForValue(11.7), 43, 23);
    ageLine(chart, 12.93, "#45474a", 3);
    // red overlap column sits under the probability curve
    fillBand(chart, redLineAges[1], redLineAges[2], RED, "y", 12.23, 9);
  },
  afterDatasetsDraw(chart) {
    const y = chart.scales.y;
    const c = chart.ctx;
    const top = y.getPixelForValue(12.23);
    ageLine(chart, redLineAges[0], RED, 3.5, top);
    ageLine(chart, redLineAges[3], RED, 3.5, top);
    c.strokeStyle = RED;
    c.lineWidth = 3.5;
    tick(c, xPx(chart, redLineAges[0]) - 1.5, top, xPx(chart, redLineAges[3]) + 1.5, top);
    drawFrame(chart);
    leftTicks(chart, "y", 9, 70, 0.1, (i) => (i % 10 === 0 ? 12 : i % 5 === 0 ? 10 : 7.5));
    drawLegendKeys(chart);
  },
};

function drawLegendKeys(chart) {
  const c = chart.ctx;
  const x = 936;
  let row = 0;
  legendKeys.forEach((key) => {
    const y = 33 + row * 19.17 - 3;
    c.strokeStyle = key.color;
    c.fillStyle = key.color;
    if (key.star) {
      c.lineWidth = 2;
      c.beginPath();
      for (let i = 0; i < 10; i++) {
        const r = i % 2 ? 3.5 : 8;
        const a = -Math.PI / 2 + (i * Math.PI) / 5;
        c.lineTo(x + r * Math.cos(a), y + 3 + r * Math.sin(a));
      }
      c.closePath();
      c.stroke();
    } else if (key.cross) {
      c.lineWidth = 1.6;
      tick(c, x - 6, y + 3, x + 6, y + 3);
      tick(c, x, y - 3, x, y + 9);
    } else if (key.tall) {
      c.lineWidth = 1.6;
      tick(c, x, y - 6, x, y + 12);
    } else {
      c.lineWidth = 1.4;
      tick(c, x, y - 3, x, y + 9);
      c.beginPath();
      c.arc(x, y + 3, 1.8, 0, Math.PI * 2);
      c.fill();
    }
    row += key.lines.length;
  });
}

const calSets = inPaintOrder([
  lineSet(calCurve.map(([t, v]) => [t, v + calOffset]), "#444547", 2.3, { tension: 0.4 }),
  lineSet(calCurve, "#444547", 2.3, { tension: 0.4 }),
  lineSet(calCurve.map(([t, v]) => [t, v - calOffset]), "#444547", 2.3, { tension: 0.4 }),
  areaSet(ageDensityBlack, "#000", "start", { yAxisID: "yd", tension: 0.3 }),
  lineSet(ageDensityGrey, "#3a3d3f", 2.4, { yAxisID: "yd", tension: 0.3 }),
  lineSet(marksAlongAge(dateAgesBlack, 0.1), "#fff", 2.4, { yAxisID: "yd" }),
  lineSet(marksAlongAge(dateAgesGrey, 0.1), "#48494b", 2.4, { yAxisID: "yd" }),
  lineSet(c14DensityBlack, "#000", 1, { xAxisID: "xd", closedFill: "#000", tension: 0.3 }),
  lineSet(c14DensityGrey, "#2e3133", 2.4, { xAxisID: "xd", tension: 0.3 }),
  lineSet(marksAlongC14(dateC14White, 0.104), "#fff", 2.4, { xAxisID: "xd" }),
  lineSet(marksAlongC14(dateC14Grey, 0.104), "#48494b", 2.4, { xAxisID: "xd" }),
  ...dated(cariaco610, 0.09, "#12a5a5", 1.4),
  ...dated(cariacoDynamic, 0.06, "#0a71b9"),
  ...dated(corals, 0.035, "#e02d90", 1.9),
  ...dated(cariaco420, 0.075, "#1a1a50", 2.2),
  ...dated(zhLg1, 0.05, "#a3a32a", 1.3),
  lineSet(germanPine, "#0c4a34", 4),
  ...dated(germanPine, 0.05, "#0c5a3c", 1.7),
  lineSet(huon783, "#6a6a2a", 3),
  ...dated(huon783, 0.05, "#6a6a2a"),
  lineSet(huon781, "#3f9a4a", 3),
  ...dated(huon781, 0.05, "#3f9a4a"),
  lineSet(huon779, "#4a1a5a", 2),
  ...dated(huon779, 0.05, "#4a1a5a"),
  lineSet(huon782, "#5a4fb0", 6),
  ...dated(huon782, 0.05, "#5a4fb0", 2.2),
  lineSet(ydA.slice(0, 4), "#c8201c", 5),
  lineSet(ydA.slice(4), "#e8352a", 5),
  ...dated(ydA, 0.04, "#e8352a", 2.4),
  lineSet(ydB, "#f07030", 3),
  lineSet(cedc, "#00a651", 6.5, { tension: 0.2 }),
]);

new Chart(document.getElementById("calChart"), {
  type: "line",
  data: { datasets: calSets },
  options: {
    responsive: false,
    layout: { padding: { top: 15, bottom: 12, right: 35 } },
    plugins: { legend: { display: false }, tooltip: { enabled: false } },
    scales: {
      x: xScaleHidden,
      xd: { type: "linear", min: 0, max: 5, display: false },
      yd: { type: "linear", min: 0, max: 5, display: false },
      y: {
        type: "linear", min: 9, max: 16, grid: noGrid, border: noBorder,
        ticks: { stepSize: 1, padding: 14, font: tickFont(16) },
        afterFit(scale) { scale.width = 47.5; flushScale(scale); },
      },
    },
  },
  plugins: [calDeco],
});

// ---- panel B ----
const pollenDeco = {
  id: "pollenDeco",
  beforeDatasetsDraw(chart) {
    pollenBands.forEach(([a, b]) => fillBand(chart, a, b, "#d7d8d7"));
    ageLine(chart, 15.1, "#8a8c8d", 3);
  },
  afterDatasetsDraw(chart) {
    const a = chart.chartArea;
    const c = chart.ctx;
    ageLine(chart, 12.93, "rgba(75,77,80,0.85)", 2);
    // +120 years column, the hatching stops around its label
    const x1 = xPx(chart, redLineAges[2]);
    const x2 = xPx(chart, redLineAges[3]);
    c.save();
    c.beginPath();
    c.rect(x1, a.top, x2 - x1, a.bottom - a.top);
    c.clip();
    c.strokeStyle = "#000";
    c.lineWidth = 2.5;
    for (let y = a.top - 24; y < a.bottom; y += 29) {
      const mid = y + 11 - a.top;
      if (mid > 185 && mid < 280) continue;
      tick(c, x1, y + 23, x2, y);
    }
    c.restore();
    redLineAges.forEach((t) => ageLine(chart, t, RED, 3.5));
    drawFrame(chart);
    ageTicksTop(chart);
    leftTicks(chart, "y", 0, 20, 5, (i) => (i === 10 ? 19 : i === 0 ? 0 : 9));
  },
};

const pollenSets = inPaintOrder([
  areaSet(poaceaeEdge, "#808485", "end"),
  areaSet(napTop, "#000", "start"),
  areaSet(apTop, "#bcbdbc", "start"),
  areaSet(betulaTop, "#35383a", "start"),
  lineSet(betulaLine, "#bcbdbc", 2.6),
  lineSet(juniperusLine, "#707273", 2.4),
  lineSet(pinusLine, "#fff", 2.6),
  lineSet(artemisiaLine, "#2e3133", 3),
]);

new Chart(document.getElementById("pollenChart"), {
  type: "line",
  data: { datasets: pollenSets },
  options: {
    responsive: false,
    layout: { padding: { top: 8, bottom: 8, right: 35 } },
    plugins: { legend: { display: false }, tooltip: { enabled: false } },
    scales: {
      x: xScaleHidden,
      y: {
        type: "linear", min: 0, max: 100, grid: noGrid, border: noBorder,
        ticks: { stepSize: 50, padding: 21, font: tickFont(16), callback: (v) => (v === 50 ? "50" : "") },
        afterFit(scale) { scale.width = 47.5; flushScale(scale); },
      },
    },
  },
  plugins: [pollenDeco],
});

// ---- panel A ----
const ngripDeco = {
  id: "ngripDeco",
  beforeDatasetsDraw(chart) {
    stadialBands.forEach(([a, b]) => fillBand(chart, a, b, "#d7d8d7"));
  },
  afterDatasetsDraw(chart) {
    const a = chart.chartArea;
    const c = chart.ctx;
    ageLine(chart, 15.1, "rgba(128,130,131,0.85)", 3);
    ageLine(chart, 12.93, "rgba(70,72,75,0.9)", 2);
    redLineAges.forEach((t) => ageLine(chart, t, RED, 3.5));
    drawFrame(chart);
    ageTicksTop(chart);
    leftTicks(chart, "y", -46, 5, 2, () => 12);
    c.strokeStyle = "#000";
    c.lineWidth = 2.5;
    for (let i = 0; i <= 70; i++) {
      const x = xPx(chart, 11 + i / 10);
      tick(c, x, a.bottom, x, a.bottom + (i % 5 === 0 ? 15 : 9));
    }
    for (let i = 0; i <= 4; i++) {
      const y = chart.scales.ySo4.getPixelForValue(i / 2);
      tick(c, a.right, y, a.right + 10, y);
    }
  },
};

function d18OGradient(context) {
  const chart = context.chart;
  if (!chart.chartArea) return "#777";
  const top = chart.scales.y.getPixelForValue(-36);
  const bottom = chart.chartArea.bottom;
  const g = chart.ctx.createLinearGradient(0, top, 0, bottom);
  g.addColorStop(0, "#1a1c1f");
  g.addColorStop(0.38, "#56595b");
  g.addColorStop(0.63, "#8b8d8e");
  g.addColorStop(0.86, "#c9caca");
  g.addColorStop(1, "#f7f7f7");
  return g;
}

const ngripSets = inPaintOrder([
  lineSet(d18O, "#000", 3, { fill: "start", backgroundColor: d18OGradient }),
  lineSet(sulphate, "#000", 2.4, { fill: "start", backgroundColor: "#1c1f22", yAxisID: "ySo4" }),
]);

new Chart(document.getElementById("ngripChart"), {
  type: "line",
  data: { datasets: ngripSets },
  options: {
    responsive: false,
    layout: { padding: { top: 8 } },
    plugins: { legend: { display: false }, tooltip: { enabled: false } },
    scales: {
      x: {
        type: "linear", min: 11, max: 18, reverse: true, position: "bottom", grid: noGrid, border: noBorder,
        ticks: { stepSize: 0.5, padding: 17, maxRotation: 0, autoSkip: false, font: tickFont(22), callback: (v) => v.toFixed(1) },
        afterFit(scale) { scale.height = 72; flushScale(scale); },
      },
      y: {
        type: "linear", min: -46.9, max: -34.58, grid: noGrid, border: noBorder,
        ticks: { stepSize: 2, includeBounds: false, padding: 14, font: tickFont(16) },
        afterFit(scale) { scale.width = 47.5; flushScale(scale); },
      },
      ySo4: {
        type: "linear", axis: "y", position: "right", min: 0, max: 7.63, grid: noGrid, border: noBorder,
        ticks: { stepSize: 1, padding: 14, font: tickFont(16), callback: (v) => (v <= 2 ? String(v) : "") },
        afterFit(scale) { scale.width = 35; flushScale(scale); },
      },
    },
  },
  plugins: [ngripDeco],
});

// ---- text ----
const page = document.getElementById("page");

function note(html, x, y, size, opts = {}) {
  const el = document.createElement("div");
  el.className = "note";
  el.innerHTML = html;
  el.style.top = y + "px";
  el.style.fontSize = size + "px";
  el.style.fontWeight = opts.weight || 400;
  el.style.color = opts.color || "#1a1a1a";
  if (opts.bg) el.style.background = opts.bg;
  if (opts.right) {
    el.style.right = 1255 - x + "px";
    el.style.transform = "translateY(-50%)";
  } else {
    el.style.left = x + "px";
    el.style.transform = opts.rotate ? `translate(-50%,-50%) rotate(${opts.rotate}deg)` : "translateY(-50%)";
  }
  page.appendChild(el);
}

note("Calibration of 14C date sets from Bonn-", 54, 38, 26.2, { weight: 600, color: "#000" });
note("Oberkassel (black) and Irlich (grey)", 54, 70, 26.2, { weight: 600, color: "#000" });
note("transition", 575, 36, 26, { weight: 600, color: "#8a8c8d" });
note("LSE", 846, 36, 26, { weight: 600, color: "#4a4c4e" });
note("kyrs <sup>14</sup>C-BP", 20, 64, 14, { rotate: 90 });
note("C", 51, 671, 26, { weight: 700, color: "#000" });
note("Calibration datasets as used", 55, 696, 14.5);
note("in the present study", 55, 715, 14.5);
note("(for further details see text)", 55, 734, 14.5);

let legendRow = 0;
legendKeys.forEach((key) => {
  key.lines.forEach((text, i) => {
    note(text, i === 0 ? 952 : key.indent, 33 + legendRow * 19.17, 15, { color: "#222" });
    legendRow++;
  });
});

note("MFM 6", 52, 777, 26, { weight: 700, color: "#000" });
note("B", 52, 998, 26, { weight: 700, color: "#000" });
note("Pollen profile (Litt / Stebich 1999)", 56, 1023, 14.5);
note("timescale: varve chronology of MFM", 56, 1042, 14.5);
note("with additional 120 years (Brauer / Endres /", 56, 1061, 14.5);
note("Negendank 1999; Brauer et al. 2000)", 56, 1080, 14.5);
note("%", 12, 942, 16);
note("Artemisia", 581, 773, 14, { right: true, weight: 600, color: "#2e3133" });
note("Poaceae", 581, 867, 15, { right: true, weight: 600, color: "#8a8c8d", bg: "#fff" });
note("NAP", 581, 1013, 15, { right: true, weight: 700, color: "#000" });
note("AP", 581, 1041, 15, { right: true, weight: 700, color: "#000" });
note("Pinus", 581, 1064, 14, { right: true, weight: 600, color: "#2e3133" });
note("Betula", 1161, 863, 15, { weight: 600, color: "#c4c5c4" });
note("Juniperus", 1117, 1045, 15, { color: "#6e7072" });
note("+120 years", 776, 986, 16, { rotate: -90, color: "#000" });

note("‰", 25, 1101, 14);
note("d<sup>18</sup>O", 12, 1119, 14);
note("NGRIP", 52, 1125, 26, { weight: 700, color: "#000" });
note("A", 52, 1256, 27, { color: "#2a2a2a" });
note("GS-2b", 162, 1123, 22.5, { color: "#626466" });
note("GS-2a", 450, 1123, 22.5, { color: "#626466" });
note("Late Pleniglacial", 299, 1149, 22, { weight: 700, color: "#4a4c4e" });
note("GI-1d", 690, 1123, 22, { color: "#626466" });
note("GI-1c<sub>2</sub>", 753, 1123, 22, { color: "#626466" });
note("GI-1b", 835, 1123, 22, { color: "#626466" });
note("GS-1", 993, 1123, 22, { color: "#626466" });
note("Lateglacial Stadial", 918, 1149, 22, { weight: 700, color: "#4a4c4e" });
note("(Younger Dryas)", 928, 1175, 22, { weight: 700, color: "#4a4c4e" });
note("GH-", 1129, 1123, 22, { color: "#626466" });
note("11.4", 1128, 1149, 22, { color: "#8a8c8d" });
note("GI-1e", 633, 1260, 22, { color: "#e6e6e6" });
note("GI-1c<sub>3</sub>", 722, 1260, 22, { color: "#e6e6e6" });
note("GI-1c<sub>1</sub>", 789, 1260, 22, { color: "#e6e6e6" });
note("GI-1a", 875, 1260, 22, { color: "#e6e6e6" });
note("GH", 1119, 1260, 22, { color: "#e6e6e6" });
note("Lateglacial Interstadial", 659, 1307, 22, { weight: 700, color: "#f4f4f4" });
note("Holocene", 1117, 1308, 22, { weight: 700, color: "#f4f4f4" });
note("?", 586, 1337, 20, { weight: 700, color: "#222" });
note("?", 896, 1337, 20, { weight: 700, color: "#222" });
note("?", 1166, 1337, 20, { weight: 700, color: "#222" });
note("d<sup>18</sup>O (Andersen et al. 2004) with ash shards", 51, 1369, 14.5);
note("and layers as well as Ca<sup>2+</sup> corrected sulphate", 51, 1389, 14.5);
note("content indicated (Mortensen et al. 2005)", 51, 1408, 14.5);
note("timescale: GICC05 (see Fig. 30)", 51, 1427, 14.5);
note("SO<sub>4</sub><sup>2-</sup>-Ca<sup>2+</sup> (pptw)", 1237, 1283, 15, { rotate: 90 });
note("kyrs cal. b2k", 554, 1501, 22);
</script>
</body>
</html>
